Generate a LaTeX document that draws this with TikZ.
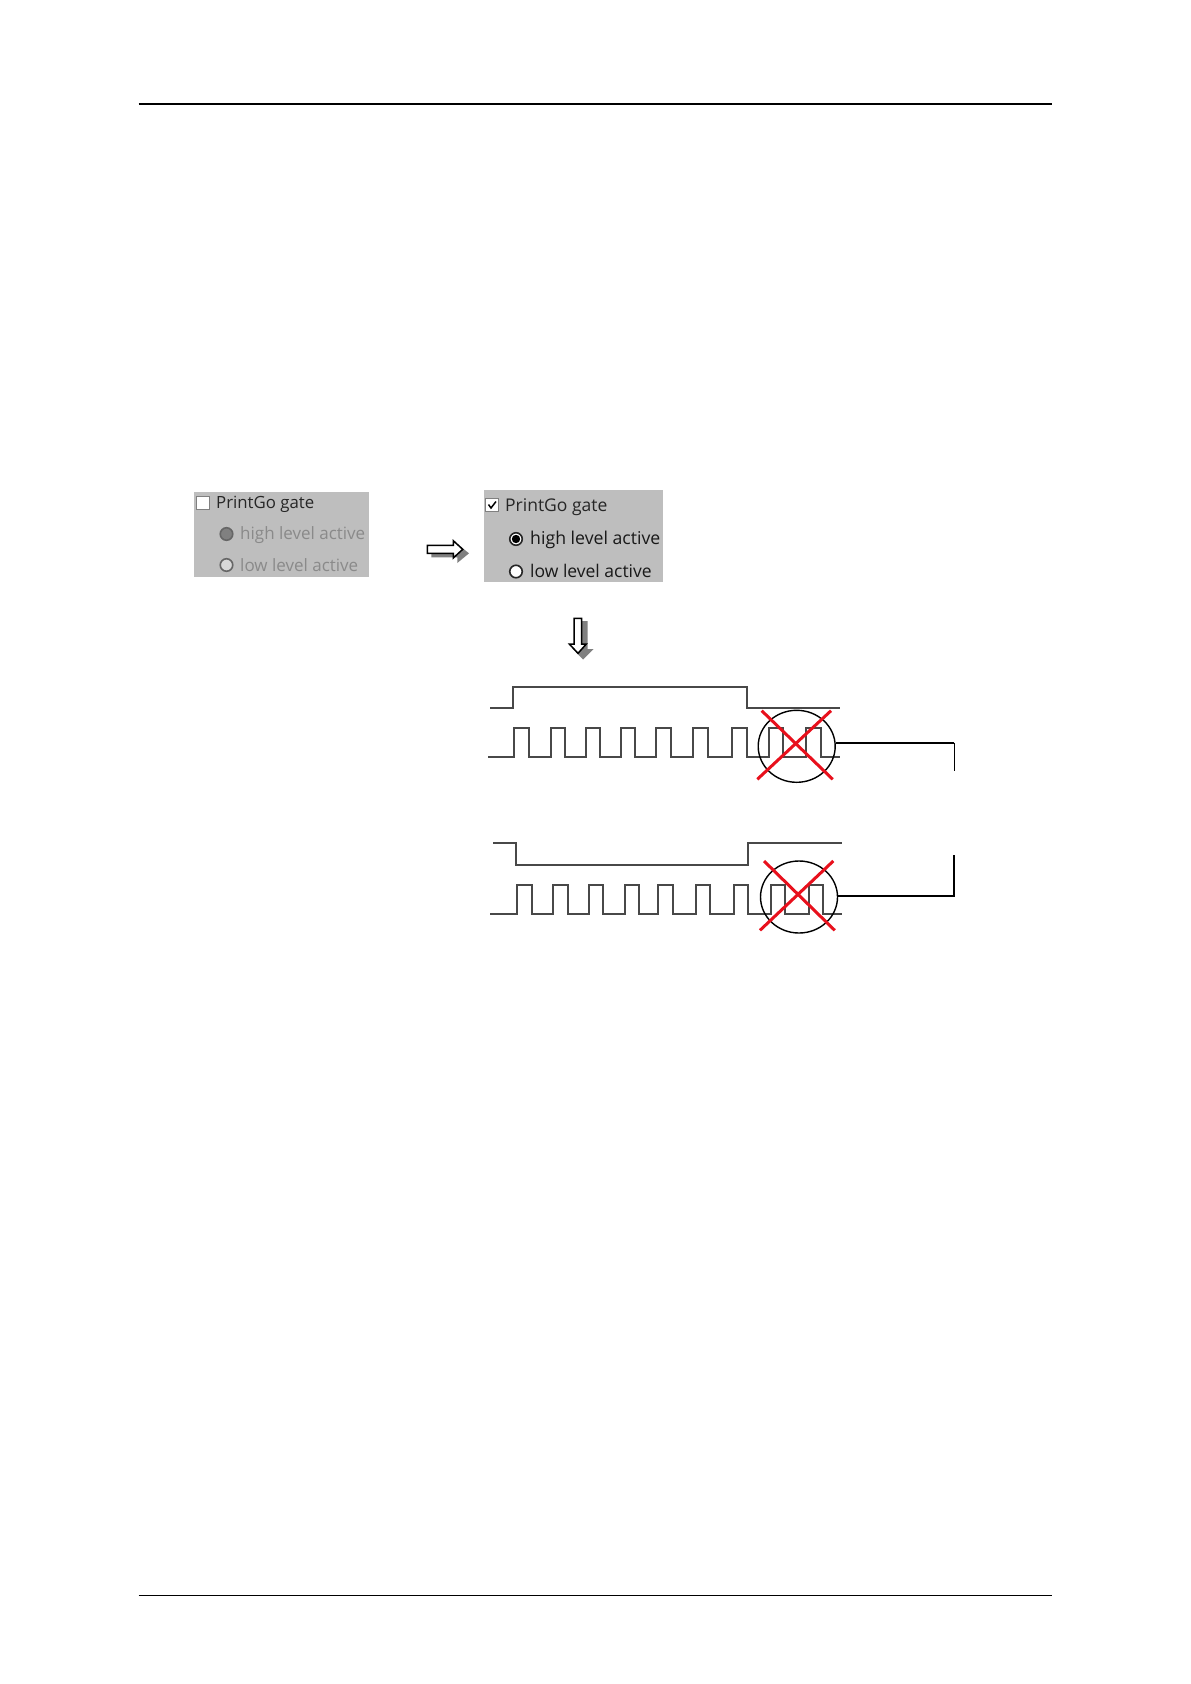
\documentclass[tikz,border=0pt]{standalone}
\usepackage{fontspec}
\setmainfont{Open Sans}
\definecolor{panel}{HTML}{BEBEBE}
\definecolor{wave}{HTML}{484848}
\definecolor{dimtext}{HTML}{8A8A8A}
\definecolor{shade}{HTML}{808080}
\definecolor{crossred}{HTML}{E8101C}
\usetikzlibrary{shapes.geometric}
\tikzset{
  x=1pt,y=-1pt,
  lbl/.style={anchor=west,inner sep=0,font=\fontsize{#1}{20}\selectfont},
  waveline/.style={draw=wave,line width=2.2pt,line join=miter},
  redx/.style={draw=crossred,line width=3pt},
  ring/.style={draw=black,line width=1.4pt,ellipse,minimum width=77pt,minimum height=72pt,inner sep=0},
  conn/.style={draw=black,line width=2pt},
  rule/.style={draw=black,line width=#1},
  radio/.style={circle,draw=#1,line width=1.6pt,fill=white,minimum size=12.5pt,inner sep=0},
  checkbox/.style={draw=black!50,fill=white,minimum size=12.5pt,inner sep=0,line width=1pt},
  arrowbody/.style={draw=black,line width=1.5pt,fill=white,line join=miter},
  arrowshade/.style={fill=shade,draw=none},
}
\begin{document}
\begin{tikzpicture}
\useasboundingbox (0,0) rectangle (1191,1684);
\fill[white] (0,0) rectangle (1191,1684);
% page rules
\coordinate (tl) at (138.5,104); \coordinate (tr) at (1052,104);
\coordinate (bl) at (138.5,1595); \coordinate (br) at (1052,1595);
\draw[rule=2.2pt] (tl) -- (tr);
\draw[rule=0.9pt] (bl) -- (br);
% left panel
\fill[panel] (194,492) rectangle (369,577);
\node[checkbox] (c1) at (203,503) {};
\node[lbl=16.8,text=black!85] (t1) at (216,504) {PrintGo gate};
\node[radio=black!60,fill=shade] (r1) at (226.5,534) {};
\node[lbl=17,text=dimtext] (t2) at (240,535) {high level active};
\node[radio=black!60,fill=panel!60] (r2) at (226.5,565) {};
\node[lbl=17,text=dimtext] (t3) at (240,565) {low level active};
% right panel
\fill[panel] (484,490) rectangle (663,582);
\node[checkbox] (c2) at (492,505) {};
\draw[black,line width=1.5pt] (488.5,504.5) -- (491,508) -- (496,501.5);
\node[lbl=17.5,text=black!85] (t4) at (505,507.5) {PrintGo gate};
\node[radio=black!85] (r3) at (516,539) {};
\fill[black] (r3) circle (4.2pt);
\node[lbl=17.7,text=black!90] (t5) at (530,540) {high level active};
\node[radio=black!85] (r4) at (516,571.5) {};
\node[lbl=17.5,text=black!90] (t6) at (530,570.5) {low level active};
% right arrow
\fill[arrowshade] (431.3,549.3) -- (457.3,549.3) -- (457.3,544) -- (469,553.3) -- (457.3,563) -- (457.3,557.3) -- (431.3,557.3) -- cycle;
\draw[arrowbody] (427.3,545.3) -- (453.3,545.3) -- (453.3,540.7) -- (462.7,549.3) -- (453.3,558) -- (453.3,553.3) -- (427.3,553.3) -- cycle;
% down arrow
\fill[arrowshade] (579,621) -- (587.5,621) -- (587.5,649) -- (593.5,649) -- (583,659.5) -- (573,649) -- (579,649) -- cycle;
\draw[arrowbody] (574,618.3) -- (581.7,618.3) -- (581.7,644) -- (586.3,644) -- (578,653.3) -- (569.3,644) -- (574,644) -- cycle;
% waveform A
\draw[waveline] (490,708.3) -- (513.3,708.3) -- (513.3,686.7) -- (746.7,686.7) -- (746.7,708.3) -- (840,708.3);
\draw[waveline] (488.3,756.7) -- (514.3,756.7) -- (514.3,727.7) -- (528.7,727.7) -- (528.7,756.7)
 -- (551,756.7) -- (551,727.7) -- (565.3,727.7) -- (565.3,756.7)
 -- (586,756.7) -- (586,727.7) -- (600,727.7) -- (600,756.7)
 -- (621,756.7) -- (621,727.7) -- (635.3,727.7) -- (635.3,756.7)
 -- (656,756.7) -- (656,727.7) -- (670.7,727.7) -- (670.7,756.7)
 -- (693.3,756.7) -- (693.3,727.7) -- (707.7,727.7) -- (707.7,756.7)
 -- (731.7,756.7) -- (731.7,727.7) -- (746.7,727.7) -- (746.7,756.7)
 -- (768.7,756.7) -- (768.7,727.7) -- (782.7,727.7) -- (782.7,756.7)
 -- (805.7,756.7) -- (805.7,727.7) -- (820.7,727.7) -- (820.7,756.7) -- (840,756.7);
\node[ring] (ringA) at (796.7,746.3) {};
\draw[redx] (761.7,710.7) -- (832.7,779.3);
\draw[redx] (831,710.7) -- (757.3,779.3);
\coordinate (cornerA) at (953.5,742.7);
\coordinate (endA) at (954.3,771);
\coordinate (startA) at (954.3,742.7);
\draw[conn] (ringA.east |- cornerA) -- (cornerA);
\draw[conn,line width=1.6pt] (startA) -- (endA);
% waveform B
\draw[waveline] (493.3,843.3) -- (516,843.3) -- (516,865) -- (748.3,865) -- (748.3,843.3) -- (841.7,843.3);
\draw[waveline] (490,914.3) -- (517.3,914.3) -- (517.3,885.3) -- (531.7,885.3) -- (531.7,914.3)
 -- (553.3,914.3) -- (553.3,885.3) -- (567.7,885.3) -- (567.7,914.3)
 -- (588.7,914.3) -- (588.7,885.3) -- (603,885.3) -- (603,914.3)
 -- (624.7,914.3) -- (624.7,885.3) -- (639,885.3) -- (639,914.3)
 -- (658.3,914.3) -- (658.3,885.3) -- (672.7,885.3) -- (672.7,914.3)
 -- (696,914.3) -- (696,885.3) -- (710.3,885.3) -- (710.3,914.3)
 -- (734,914.3) -- (734,885.3) -- (748.3,885.3) -- (748.3,914.3)
 -- (771,914.3) -- (771,885.3) -- (785.3,885.3) -- (785.3,914.3)
 -- (809.3,914.3) -- (809.3,885.3) -- (823.3,885.3) -- (823.3,914.3) -- (841.7,914.3);
\node[ring] (ringB) at (799,897) {};
\draw[redx] (764,861) -- (834.7,930.3);
\draw[redx] (833.3,861) -- (760,930.3);
\coordinate (cornerB) at (954.3,895.7);
\coordinate (endB) at (954.3,855);
\draw[conn] (ringB.east |- cornerB) -- (cornerB) -- (endB);
\end{tikzpicture}
\end{document}
